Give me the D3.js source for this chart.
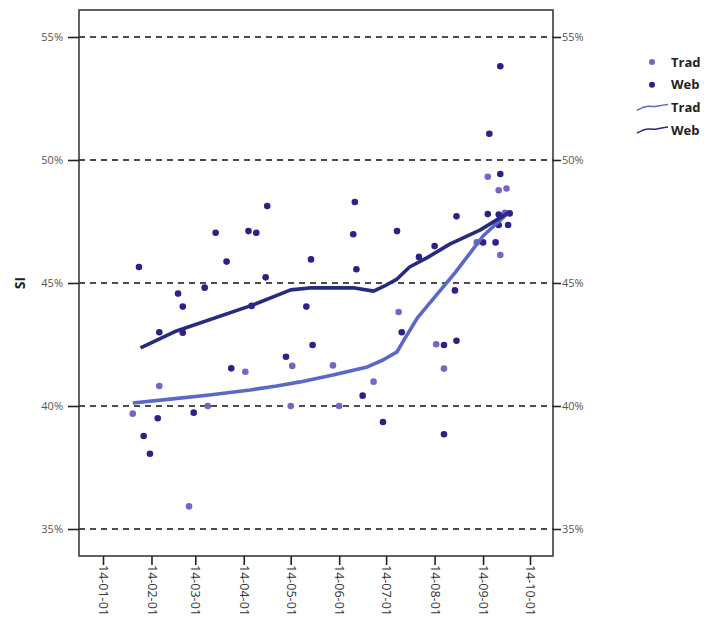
<!DOCTYPE html>
<html>
<head>
<meta charset="utf-8">
<script src="https://cdn.jsdelivr.net/npm/d3@7"></script>
<style>
  body { margin: 0; background: #fff; }
  svg { display: block; }
</style>
</head>
<body>
<script>
// scatter points, Trad
const tradDates = ['2014-01-20', '2014-02-06', '2014-03-09', '2014-02-25', '2014-04-02', '2014-05-02',
    '2014-05-01', '2014-06-01', '2014-05-28', '2014-06-23', '2014-07-09', '2014-08-02', '2014-08-07',
    '2014-09-04', '2014-09-11', '2014-09-16', '2014-09-15', '2014-08-28', '2014-09-12'];
const tradValues = [39.69, 40.81, 40.0, 35.92, 41.39, 41.63,
    40.0, 40.0, 41.65, 40.99, 43.82, 42.51, 41.52,
    49.32, 48.77, 48.84, 47.85, 46.65, 46.14];

// scatter points, Web
const webDates = ['2014-01-24', '2014-02-18', '2014-02-21', '2014-03-07', '2014-03-14', '2014-03-21',
    '2014-04-04', '2014-04-09', '2014-04-16', '2014-04-15', '2014-05-14', '2014-05-11', '2014-04-06',
    '2014-02-06', '2014-02-21', '2014-01-27', '2014-01-31', '2014-02-05', '2014-02-28', '2014-03-24',
    '2014-04-28', '2014-05-15', '2014-06-11', '2014-06-10', '2014-06-12', '2014-07-08', '2014-07-22',
    '2014-08-01', '2014-07-11', '2014-06-16', '2014-06-29', '2014-08-07', '2014-08-07', '2014-08-15',
    '2014-08-14', '2014-09-12', '2014-09-05', '2014-09-12', '2014-08-15', '2014-09-04', '2014-09-11',
    '2014-09-18', '2014-09-17', '2014-09-11', '2014-09-01', '2014-09-09'];
const webValues = [45.65, 44.57, 44.04, 44.81, 47.04, 45.87,
    47.11, 47.04, 48.13, 45.23, 45.96, 44.04, 44.07,
    43.0, 42.98, 38.78, 38.06, 39.5, 39.73, 41.53,
    42.0, 42.48, 48.29, 46.98, 45.56, 47.11, 46.06,
    46.5, 43.0, 40.42, 39.35, 42.48, 38.85, 42.65,
    44.7, 53.81, 51.07, 49.43, 47.71, 47.8, 47.78,
    47.83, 47.36, 47.36, 46.65, 46.65];

// smoothed lines
const tradLineDates = ['2014-01-20', '2014-02-13', '2014-03-10', '2014-04-05', '2014-04-22', '2014-05-07',
    '2014-05-28', '2014-06-19', '2014-06-29', '2014-07-08', '2014-07-12', '2014-07-21', '2014-08-14',
    '2014-09-01', '2014-09-17'];
const tradLineValues = [40.12, 40.28, 40.45, 40.65, 40.81, 40.98,
    41.26, 41.59, 41.87, 42.2, 42.64, 43.58, 45.41,
    46.91, 47.85];

const webLineDates = ['2014-01-25', '2014-02-17', '2014-04-07', '2014-05-01', '2014-05-13', '2014-05-28',
    '2014-06-11', '2014-06-23', '2014-06-30', '2014-07-08', '2014-07-16', '2014-07-27', '2014-08-11',
    '2014-08-30', '2014-09-17'];
const webLineValues = [42.36, 43.05, 44.11, 44.72, 44.8, 44.8,
    44.8, 44.67, 44.88, 45.16, 45.65, 46.02, 46.59,
    47.15, 47.85];

const xTicks = ['2014-01-01', '2014-02-01', '2014-03-01', '2014-04-01', '2014-05-01',
    '2014-06-01', '2014-07-01', '2014-08-01', '2014-09-01', '2014-10-01'];
const yTicks = [35, 40, 45, 50, 55];

const parse = d3.utcParse('%Y-%m-%d');
const zip = (ds, vs) => ds.map((d, i) => ({ date: parse(d), value: vs[i] }));

const tradPts = zip(tradDates, tradValues);
const webPts = zip(webDates, webValues);
const tradLine = zip(tradLineDates, tradLineValues);
const webLine = zip(webLineDates, webLineValues);

const colors = {
    tradDot: '#7a62c8',
    webDot: '#2c2185',
    tradLine: '#5a68c6',
    webLine: '#272b80'
};

const width = 707, height = 617;
const frame = { left: 79, right: 553, top: 10, bottom: 556 };
const font = '"Open Sans", "DejaVu Sans", sans-serif';

const svg = d3.select('body').append('svg')
    .attr('width', width)
    .attr('height', height);

svg.append('rect')
    .attr('width', width)
    .attr('height', height)
    .attr('fill', 'white');

const x = d3.scaleUtc()
    .domain([parse('2014-01-01'), parse('2014-10-01')])
    .range([103, 530]);

const y = d3.scaleLinear()
    .domain([35, 55])
    .range([529, 37]);

// dashed grid lines
svg.append('g')
    .selectAll('line')
    .data(yTicks)
    .join('line')
    .attr('x1', frame.left)
    .attr('x2', frame.right)
    .attr('y1', d => y(d))
    .attr('y2', d => y(d))
    .attr('stroke', '#111')
    .attr('stroke-width', 1.3)
    .attr('stroke-dasharray', '6,5');

// frame
svg.append('rect')
    .attr('x', frame.left)
    .attr('y', frame.top)
    .attr('width', frame.right - frame.left)
    .attr('height', frame.bottom - frame.top)
    .attr('fill', 'none')
    .attr('stroke', '#3a3a3a')
    .attr('stroke-width', 1.6);

// axes
const styleAxis = g => {
    g.select('.domain').remove();
    g.selectAll('.tick line').attr('stroke', '#222').attr('stroke-width', 1.6);
    g.selectAll('.tick text')
        .attr('fill', '#555')
        .style('font-family', font)
        .style('font-size', '11px');
};

svg.append('g')
    .attr('transform', `translate(${frame.left},0)`)
    .call(d3.axisLeft(y).tickValues(yTicks).tickSize(11).tickPadding(5).tickFormat(d => d + '%'))
    .call(styleAxis);

svg.append('g')
    .attr('transform', `translate(${frame.right},0)`)
    .call(d3.axisRight(y).tickValues(yTicks).tickSize(8).tickPadding(1).tickFormat(d => d + '%'))
    .call(styleAxis);

const xAxis = svg.append('g')
    .attr('transform', `translate(0,${frame.bottom})`)
    .call(d3.axisBottom(x).tickValues(xTicks.map(parse)).tickSize(9).tickFormat(d3.utcFormat('%y-%m-%d')))
    .call(styleAxis);

xAxis.selectAll('.tick text')
    .attr('transform', 'rotate(90)')
    .attr('text-anchor', 'start')
    .attr('x', 9)
    .attr('y', 0)
    .attr('dy', '0.35em')
    .attr('fill', '#333')
    .style('font-size', '12.5px');

// y title
svg.append('text')
    .attr('transform', `translate(20,${y(45)}) rotate(-90)`)
    .attr('text-anchor', 'middle')
    .attr('dy', '0.35em')
    .style('font-family', font)
    .style('font-size', '14px')
    .style('font-weight', 'bold')
    .attr('fill', '#222')
    .text('SI');

// dots
svg.append('g')
    .selectAll('circle')
    .data(tradPts)
    .join('circle')
    .attr('cx', d => x(d.date))
    .attr('cy', d => y(d.value))
    .attr('r', 3.3)
    .attr('fill', colors.tradDot);

svg.append('g')
    .selectAll('circle')
    .data(webPts)
    .join('circle')
    .attr('cx', d => x(d.date))
    .attr('cy', d => y(d.value))
    .attr('r', 3.3)
    .attr('fill', colors.webDot);

// lines
const line = d3.line()
    .x(d => x(d.date))
    .y(d => y(d.value));

svg.append('path')
    .datum(tradLine)
    .attr('fill', 'none')
    .attr('stroke', colors.tradLine)
    .attr('stroke-width', 3.6)
    .attr('stroke-linejoin', 'round')
    .attr('d', line);

svg.append('path')
    .datum(webLine)
    .attr('fill', 'none')
    .attr('stroke', colors.webLine)
    .attr('stroke-width', 3.6)
    .attr('stroke-linejoin', 'round')
    .attr('d', line);

// legend
const legendItems = [
    ['Trad', 'dot', colors.tradDot],
    ['Web', 'dot', colors.webDot],
    ['Trad', 'line', colors.tradLine],
    ['Web', 'line', colors.webLine]
];

const legend = svg.append('g')
    .selectAll('g')
    .data(legendItems)
    .join('g')
    .attr('transform', (d, i) => `translate(652,${62 + i * 22.7})`);

legend.filter(d => d[1] === 'dot')
    .append('circle')
    .attr('r', 3)
    .attr('fill', d => d[2]);

legend.filter(d => d[1] === 'line')
    .append('path')
    .attr('d', 'M-15,3 C-10,0 -6,-2 -1,-1 S5,-2 16,-3')
    .attr('fill', 'none')
    .attr('stroke', d => d[2])
    .attr('stroke-width', 1.5);

legend.append('text')
    .attr('x', 19)
    .attr('dy', '0.35em')
    .style('font-family', font)
    .style('font-size', '13px')
    .style('font-weight', 'bold')
    .attr('fill', '#222')
    .text(d => d[0]);
</script>
</body>
</html>
